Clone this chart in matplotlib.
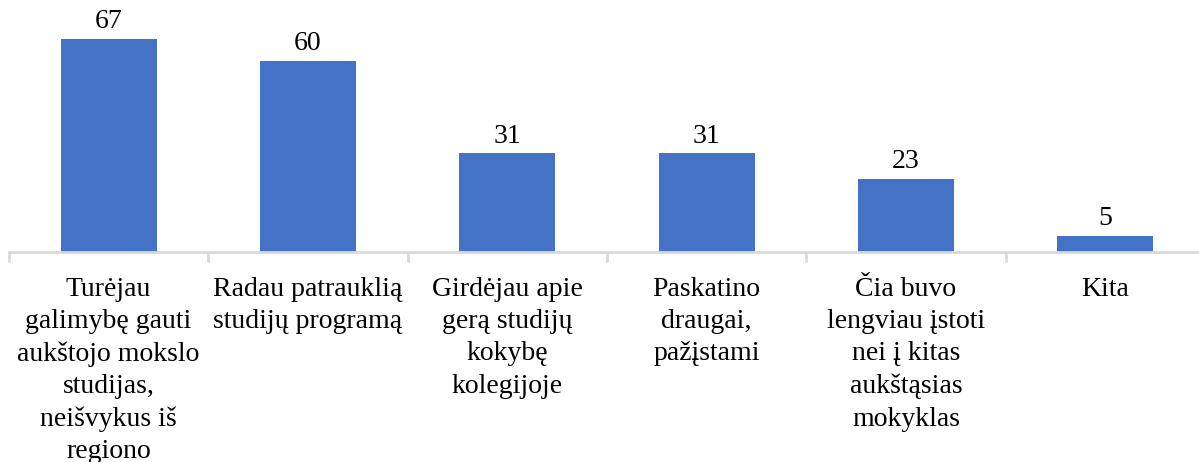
import numpy as np
import matplotlib.pyplot as plt

categories = [
    "Turėjau\ngalimybę gauti\naukštojo mokslo\nstudijas,\nneišvykus iš\nregiono",
    "Radau patrauklią\nstudijų programą",
    "Girdėjau apie\ngerą studijų\nkokybę\nkolegijoje",
    "Paskatino\ndraugai,\npažįstami",
    "Čia buvo\nlengviau įstoti\nnei į kitas\naukštąsias\nmokyklas",
    "Kita",
]
values = [67, 60, 31, 31, 23, 5]

plt.rcParams['font.family'] = ['Liberation Serif', 'DejaVu Serif']

fig = plt.figure(figsize=(11.99, 4.62), dpi=100)
ax = fig.add_axes([9 / 1199, 210 / 462, 1196 / 1199, 252 / 462])

x = np.arange(len(categories))
bars = ax.bar(x, values, width=0.48, color='#4472C4', zorder=2)
for xi, v in zip(x, values):
    ax.text(xi, v + 1.5, str(v), ha='center', va='bottom', fontsize=20, color='black')

ax.set_xlim(-0.5, len(categories) - 0.5)
ax.set_ylim(0, 79.2)

ax.set_xticks(x)
ax.set_xticklabels(categories, fontsize=20, linespacing=1.38, va='top')
ax.tick_params(axis='x', which='major', length=0, pad=18)
ax.set_xticks(np.arange(len(categories) + 1) - 0.5, minor=True)
ax.tick_params(axis='x', which='minor', length=7, width=2, color='#d9d9d9', direction='out')
ax.set_yticks([])

for s in ['top', 'right', 'left']:
    ax.spines[s].set_visible(False)
ax.spines['bottom'].set_color('#d9d9d9')
ax.spines['bottom'].set_linewidth(2)

fig.savefig('out.png', dpi=100)
